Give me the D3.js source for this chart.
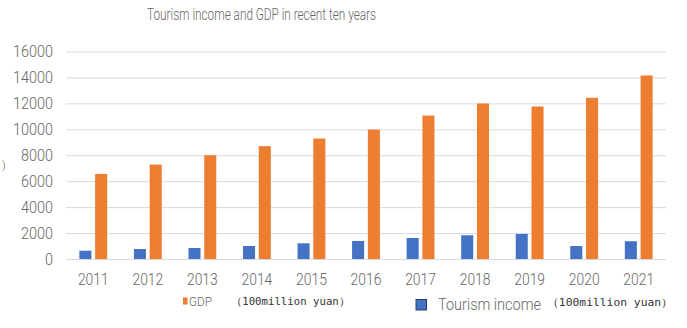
<!DOCTYPE html>
<html>
<head>
<meta charset="utf-8">
<script src="https://cdn.jsdelivr.net/npm/d3@7/dist/d3.min.js"></script>
<style>
  html, body { margin: 0; padding: 0; background: #ffffff; }
  svg { display: block; }
  .lbl { font-family: Roboto, "Liberation Sans", sans-serif; font-weight: 300; fill: #666666; }
  .mono { font-family: "DejaVu Sans Mono", monospace; fill: #333333; }
</style>
</head>
<body>
<svg id="chart" width="687" height="328"></svg>
<script>
// Years and annual figures (unit: 100 million yuan)
const years = ["2011", "2012", "2013", "2014", "2015", "2016", "2017", "2018", "2019", "2020", "2021"];
const tourismIncome = [640, 770, 850, 1000, 1210, 1390, 1620, 1830, 1930, 1000, 1370];
const gdp = [6560, 7280, 8000, 8700, 9290, 9980, 11060, 11990, 11760, 12430, 14150];
const yTicks = [0, 2000, 4000, 6000, 8000, 10000, 12000, 14000, 16000];
const seriesNames = ["Tourism income", "GDP"];
const seriesColors = { "Tourism income": "#4472C4", "GDP": "#ED7D31" };
const chartTitle = "Tourism income and GDP in recent ten years";
const unitLabel = "\uFF08100million yuan\uFF09";

const svg = d3.select("#chart");
const plotLeft = 66, plotRight = 666, plotTop = 51.5, plotBottom = 259;
const digitWidth = 8; // condensed look for the axis numerals

const y = d3.scaleLinear().domain([0, 16000]).range([plotBottom, plotTop]);
const x0 = d3.scaleBand().domain(years).range([plotLeft, plotRight])
  .paddingInner(0.49).paddingOuter(0.245);
const x1 = d3.scaleBand().domain(seriesNames).range([0, x0.bandwidth()])
  .paddingInner(0.236).paddingOuter(0);

// Title
svg.append("text").attr("class", "lbl")
  .attr("x", 261.5).attr("y", 19.5)
  .attr("text-anchor", "middle")
  .attr("font-size", 16)
  .attr("textLength", 229).attr("lengthAdjust", "spacingAndGlyphs")
  .text(chartTitle);

// Clipped end of the vertical axis title
svg.append("text").attr("class", "lbl")
  .attr("x", 2).attr("y", 169).attr("font-size", 11).text(")");

// Horizontal gridlines and value axis labels
const yAxis = d3.axisLeft(y).tickValues(yTicks).tickFormat(d3.format("d"))
  .tickSize(-(plotRight - plotLeft)).tickPadding(13);
const gy = svg.append("g").attr("transform", `translate(${plotLeft},0)`).call(yAxis);
gy.select(".domain").remove();
gy.selectAll(".tick line").attr("stroke", "#d9d9d9").attr("stroke-width", 1);
gy.selectAll(".tick text").attr("class", "lbl").attr("font-size", 16.5)
  .attr("fill", "#666666")
  .attr("textLength", d => String(d).length * digitWidth)
  .attr("lengthAdjust", "spacingAndGlyphs");

// Category axis labels
const xAxis = d3.axisBottom(x0).tickSize(0).tickPadding(14);
const gx = svg.append("g").attr("transform", `translate(0,${plotBottom})`).call(xAxis);
gx.select(".domain").remove();
gx.selectAll(".tick text").attr("class", "lbl").attr("font-size", 16.5)
  .attr("fill", "#666666")
  .attr("textLength", d => d.length * 7.7)
  .attr("lengthAdjust", "spacingAndGlyphs");

// Bars
const rows = years.map((yr, i) => ({ year: yr, values: { "Tourism income": tourismIncome[i], "GDP": gdp[i] } }));
const groups = svg.append("g").selectAll("g").data(rows).join("g")
  .attr("transform", d => `translate(${x0(d.year)},0)`);
groups.selectAll("rect")
  .data(d => seriesNames.map(s => ({ s, v: d.values[s] })))
  .join("rect")
  .attr("x", d => x1(d.s))
  .attr("width", x1.bandwidth())
  .attr("y", d => y(d.v))
  .attr("height", d => y(0) - y(d.v))
  .attr("fill", d => seriesColors[d.s]);

// Legend
const lg = svg.append("g");
lg.append("rect").attr("x", 183).attr("y", 297.5).attr("width", 4.5).attr("height", 7)
  .attr("fill", seriesColors["GDP"]);
lg.append("text").attr("class", "lbl").attr("x", 189).attr("y", 306)
  .attr("font-size", 13).attr("textLength", 23).attr("lengthAdjust", "spacingAndGlyphs")
  .text("GDP");
lg.append("text").attr("class", "mono").attr("x", 231).attr("y", 305)
  .attr("font-size", 10.5).attr("textLength", 119).attr("lengthAdjust", "spacingAndGlyphs")
  .text(unitLabel);

lg.append("rect").attr("x", 416).attr("y", 299.5).attr("width", 10.5).attr("height", 10.5)
  .attr("fill", seriesColors["Tourism income"]).attr("stroke", "#2b3f66").attr("stroke-width", 1);
lg.append("text").attr("class", "lbl").attr("x", 438).attr("y", 310)
  .attr("font-size", 16).attr("textLength", 103).attr("lengthAdjust", "spacingAndGlyphs")
  .text("Tourism income");
lg.append("text").attr("class", "mono").attr("x", 547).attr("y", 306)
  .attr("font-size", 10.5).attr("textLength", 126).attr("lengthAdjust", "spacingAndGlyphs")
  .text(unitLabel);
</script>
</body>
</html>
